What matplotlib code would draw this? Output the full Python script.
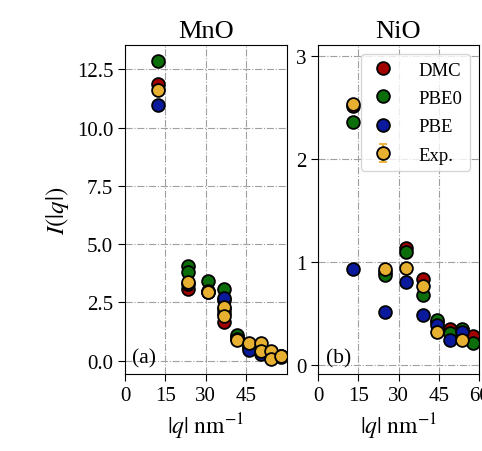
import matplotlib
matplotlib.use("Agg")
import matplotlib.pyplot as plt

plt.rcParams["font.family"] = ["Liberation Serif", "DejaVu Serif"]
plt.rcParams["mathtext.fontset"] = "stix"

# MnO magnetic reflections (|q| in nm^-1, intensity)
mno_dmc_q = [12.2, 23.4, 30.8, 36.7, 36.7, 41.8, 46.3, 50.5, 54.3, 57.9]
mno_dmc_i = [11.88, 3.08, 2.95, 2.05, 1.65, 1.0, 0.6, 0.5, 0.3, 0.2]
mno_pbe0_q = [12.2, 23.4, 23.4, 30.8, 36.7, 36.7, 41.8, 46.3, 50.5, 54.3, 57.9]
mno_pbe0_i = [12.88, 4.05, 3.8, 3.42, 3.07, 2.6, 1.12, 0.6, 0.5, 0.3, 0.2]
mno_pbe_q = [12.2, 23.4, 30.8, 36.7, 36.7, 41.8, 46.3, 50.5, 54.3, 57.9]
mno_pbe_i = [10.97, 3.3, 3.0, 2.7, 2.2, 0.95, 0.45, 0.3, 0.2, 0.15]
mno_exp_q = [12.2, 23.4, 30.8, 36.7, 36.7, 41.8, 46.3, 50.5, 50.5, 54.3, 54.3, 57.9]
mno_exp_i = [11.63, 3.38, 2.95, 2.3, 1.9, 0.88, 0.74, 0.74, 0.42, 0.43, 0.09, 0.22]
mno_exp_err = [0.05] * len(mno_exp_i)

# NiO magnetic reflections
nio_dmc_q = [13.0, 24.9, 32.8, 39.1, 44.5, 49.3, 53.7, 57.8]
nio_dmc_i = [2.52, 0.9, 1.14, 0.835, 0.42, 0.345, 0.34, 0.275]
nio_pbe0_q = [13.0, 24.9, 32.8, 39.1, 44.5, 49.3, 53.7, 57.8]
nio_pbe0_i = [2.36, 0.875, 1.1, 0.675, 0.44, 0.31, 0.345, 0.215]
nio_pbe_q = [13.0, 24.9, 32.8, 39.1, 44.5, 49.3, 53.7]
nio_pbe_i = [0.93, 0.51, 0.8, 0.485, 0.39, 0.236, 0.315]
nio_exp_q = [13.0, 24.9, 32.8, 39.1, 44.5, 53.7]
nio_exp_i = [2.54, 0.93, 0.94, 0.765, 0.315, 0.236]
nio_exp_err = [0.02] * len(nio_exp_i)

colors = {"DMC": "#a30000", "PBE0": "#0b6e0b", "PBE": "#0b1a9c", "Exp.": "#e8b030"}
ms, mew = 9.2, 1.3
fs = 15


def draw(ax, dmc, pbe0, pbe, exp):
    for (q, i), lab in zip([dmc, pbe0, pbe], ["DMC", "PBE0", "PBE"]):
        ax.plot(q, i, "o", ms=ms, mfc=colors[lab], mec="k", mew=mew, label=lab, zorder=3)
    q, i, e = exp
    ax.errorbar(q, i, yerr=e, fmt="o", ms=ms, mfc=colors["Exp."], mec="k", mew=mew,
                ecolor=colors["Exp."], elinewidth=1.5, capsize=3, label="Exp.", zorder=4)
    ax.grid(True, ls="-.", color="#a0a0a0", lw=0.8)
    ax.tick_params(labelsize=fs, direction="out", length=5)
    ax.set_xlabel(r"$|q|\ \mathrm{nm}^{-1}$", fontsize=17)


fig = plt.figure(figsize=(4.82, 4.52), dpi=100)
ax1 = fig.add_axes([125 / 482, 77 / 452, 162 / 482, 329 / 452])
ax2 = fig.add_axes([318 / 482, 77 / 452, 161 / 482, 329 / 452])

draw(ax1, (mno_dmc_q, mno_dmc_i), (mno_pbe0_q, mno_pbe0_i), (mno_pbe_q, mno_pbe_i),
     (mno_exp_q, mno_exp_i, mno_exp_err))
draw(ax2, (nio_dmc_q, nio_dmc_i), (nio_pbe0_q, nio_pbe0_i), (nio_pbe_q, nio_pbe_i),
     (nio_exp_q, nio_exp_i, nio_exp_err))

ax1.set_xlim(0, 60.3)
ax1.set_xticks([0, 15, 30, 45])
ax1.set_ylim(-0.57, 13.55)
ax1.set_yticks([0, 2.5, 5, 7.5, 10, 12.5])
ax1.set_yticklabels(["0.0", "2.5", "5.0", "7.5", "10.0", "12.5"])
ax1.set_ylabel(r"$I(|q|)$", fontsize=18)
ax1.set_title("MnO", fontsize=19)
ax1.text(0.045, 0.035, "(a)", transform=ax1.transAxes, fontsize=15.5)

ax2.set_xlim(0, 60)
ax2.set_xticks([0, 15, 30, 45, 60])
ax2.set_ylim(-0.09, 3.11)
ax2.set_yticks([0, 1, 2, 3])
ax2.set_title("NiO", fontsize=19)
ax2.text(0.05, 0.035, "(b)", transform=ax2.transAxes, fontsize=15.5)
ax2.legend(loc="upper right", bbox_to_anchor=(0.944, 0.973), borderaxespad=0,
           fontsize=13.5, framealpha=0.8, handlelength=1.5, handletextpad=1.15,
           labelspacing=0.6)

fig.savefig("out.png", dpi=100)
